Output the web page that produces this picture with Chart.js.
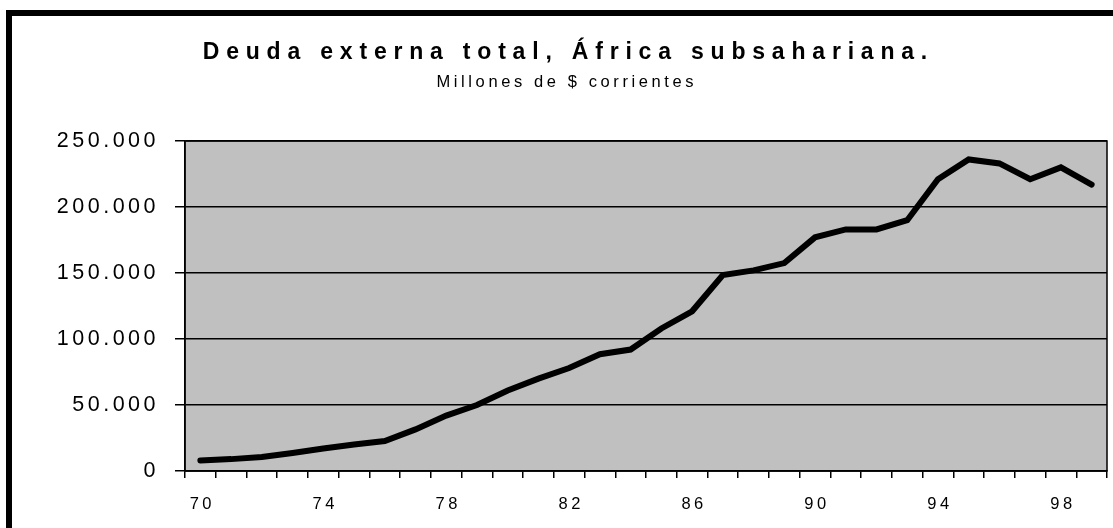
<!DOCTYPE html>
<html>
<head>
<meta charset="utf-8">
<script src="https://cdn.jsdelivr.net/npm/chart.js@4.4.1/dist/chart.umd.min.js"></script>
<style>
  body { margin: 0; background: #fff; }
  #wrap { width: 1113px; height: 528px; }
</style>
</head>
<body>
<div id="wrap"><canvas id="debt-chart"></canvas></div>
<script>
const titleText = "Deuda externa total, África subsahariana.";
const subtitleText = "Millones de $ corrientes";

// years 1970 - 1999, shown as two digits
const years = ["70", "71", "72", "73", "74", "75", "76", "77", "78", "79",
               "80", "81", "82", "83", "84", "85", "86", "87", "88", "89",
               "90", "91", "92", "93", "94", "95", "96", "97", "98", "99"];

// external debt, millions of current dollars
const debt = [8000, 9000, 10600, 13600, 17000, 20000, 22700, 31500, 42000, 50000,
              61000, 70000, 78000, 88500, 92000, 108000, 121000, 148500, 152000, 157500,
              177000, 183000, 183000, 190000, 221000, 236000, 233000, 221000, 230000, 217000];

const yTicks = [0, 50000, 100000, 150000, 200000, 250000];

const FONT = "'Liberation Sans', Arial, sans-serif";
const SCALE_SPACING = '3.5px';

function formatThousands(v) {
    return String(v).replace(/\B(?=(\d{3})+(?!\d))/g, '.');
}

// wide-spaced text like the original, plus frame, grey plot area and titles
const decorPlugin = {
    id: 'decor',
    beforeLayout(chart) {
        chart.ctx.letterSpacing = SCALE_SPACING;
    },
    beforeDraw(chart) {
        const ctx = chart.ctx;
        const a = chart.chartArea;
        ctx.save();
        ctx.fillStyle = '#ffffff';
        ctx.fillRect(0, 0, chart.width, chart.height);
        ctx.lineWidth = 6;
        ctx.strokeStyle = '#000';
        ctx.strokeRect(9, 13, chart.width + 20, chart.height + 20);
        ctx.fillStyle = '#c0c0c0';
        ctx.fillRect(a.left, a.top, a.right - a.left, a.bottom - a.top);
        ctx.restore();
        ctx.letterSpacing = SCALE_SPACING;
    },
    afterDraw(chart) {
        const ctx = chart.ctx;
        const a = chart.chartArea;
        ctx.save();
        ctx.strokeStyle = '#000';
        ctx.lineWidth = 1.5;
        ctx.strokeRect(a.left, a.top, a.right - a.left, a.bottom - a.top);

        ctx.fillStyle = '#000';
        ctx.textBaseline = 'alphabetic';
        ctx.textAlign = 'left';

        ctx.letterSpacing = '6.8px';
        ctx.font = 'bold 23px ' + FONT;
        let w = ctx.measureText(titleText).width - 6.8;
        ctx.fillText(titleText, 565 - w / 2, 59);

        ctx.letterSpacing = '3.6px';
        ctx.font = '16.5px ' + FONT;
        w = ctx.measureText(subtitleText).width - 3.6;
        ctx.fillText(subtitleText, 565 - w / 2, 87);
        ctx.restore();
    }
};

const ctx = document.getElementById('debt-chart').getContext('2d');
new Chart(ctx, {
    type: 'line',
    data: {
        labels: years,
        datasets: [{
            label: 'Deuda externa',
            data: debt,
            borderColor: '#000',
            borderWidth: 6,
            borderCapStyle: 'round',
            pointRadius: 0,
            tension: 0,
            fill: false,
        }],
    },
    options: {
        responsive: true,
        maintainAspectRatio: false,
        animation: false,
        layout: { padding: { top: 141, right: 6, left: 0, bottom: 0 } },
        plugins: {
            legend: { display: false },
            tooltip: { enabled: false },
        },
        scales: {
            x: {
                offset: true,
                grid: {
                    offset: true,
                    drawOnChartArea: false,
                    drawTicks: true,
                    tickLength: 7,
                    color: '#000',
                    lineWidth: 1.5,
                },
                border: { color: '#000', width: 1.5 },
                ticks: {
                    autoSkip: false,
                    maxRotation: 0,
                    color: '#000',
                    padding: 17,
                    labelOffset: 2,
                    font: { family: FONT, size: 16.5 },
                    callback: (v, i) => (i % 4 === 0 ? years[i] : ''),
                },
                afterFit(scale) { scale.height = 57; },
            },
            y: {
                min: 0,
                max: 250000,
                afterBuildTicks(scale) {
                    scale.ticks = yTicks.map(v => ({ value: v }));
                },
                grid: {
                    color: '#000',
                    lineWidth: 1.5,
                    tickLength: 10,
                },
                border: { color: '#000', width: 1.5 },
                ticks: {
                    color: '#000',
                    padding: 16,
                    font: { family: FONT, size: 21.5 },
                    callback: v => formatThousands(v),
                },
                afterFit(scale) { scale.width = 185; },
            },
        },
    },
    plugins: [decorPlugin],
});
</script>
</body>
</html>
